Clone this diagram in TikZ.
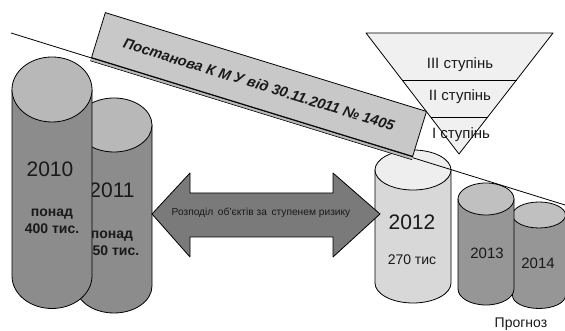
\documentclass[tikz,border=0pt]{standalone}
\usepackage{fontspec}
\setmainfont{Liberation Sans}
\definecolor{sideDark}{RGB}{140,140,140}
\definecolor{topDark}{RGB}{184,184,184}
\definecolor{sideMid}{RGB}{150,150,150}
\definecolor{topMid}{RGB}{192,192,192}
\definecolor{sideLight}{RGB}{216,216,216}
\definecolor{topLight}{RGB}{238,238,238}
\definecolor{arrowFill}{RGB}{122,122,122}
\definecolor{bandFill}{RGB}{200,200,200}
\definecolor{pyrFill}{RGB}{240,240,240}
\definecolor{ink}{RGB}{25,25,25}
% cylinder: centre x, top centre y, bottom centre y, x radius, y radius, side colour, top colour
\newcommand\drawcyl[7]{%
  \filldraw[outline,fill=#6] ({#1-#4},#2) -- ({#1-#4},#3)
    arc[start angle=180,end angle=360,x radius=#4,y radius=#5] -- ({#1+#4},#2) -- cycle;
  \filldraw[outline,fill=#7] (#1,#2) ellipse[x radius=#4,y radius=#5];
}
\begin{document}
\begin{tikzpicture}[x=1pt,y=1pt,
  outline/.style={draw=black,line width=0.8pt,line join=round},
  lbl/.style={inner sep=0pt,text=ink,align=center},
  big/.style={lbl,font=\fontsize{21}{25}\selectfont},
  mid/.style={lbl,font=\fontsize{15}{18}\selectfont},
  amount/.style={lbl,font=\bfseries\fontsize{14}{17}\selectfont},
  grade/.style={lbl,font=\fontsize{15}{18}\selectfont}]
\useasboundingbox (0,0) rectangle (565,331);

% risk grade pyramid
\coordinate (pA) at (366,298);
\coordinate (pB) at (553,298);
\coordinate (pC) at (459,177);
\filldraw[outline,fill=pyrFill] (pA) -- (pB) -- (pC) -- cycle;
\coordinate (g3l) at (402,251);   \coordinate (g3r) at (516.5,251);
\coordinate (g2l) at (430.5,214); \coordinate (g2r) at (487.7,214);
\draw[outline] (g3l) -- (g3r);
\draw[outline] (g2l) -- (g2r);
\node[grade] (gIII) at (460,266) {III ступінь};
\node[grade] (gII)  at (460,234) {II ступінь};
\node[grade] (gI)   at (461,196) {I ступінь};

% 2011 (behind 2010)
\drawcyl{114}{206}{45}{38}{27}{sideDark}{topDark}
\node[big] (y2011) at (112,141) {2011};
\node[amount] (n2011) at (112,88) {понад\\450 тис.};

% 2010
\drawcyl{52}{241.5}{55}{40}{32.5}{sideDark}{topDark}
\node[big] (y2010) at (50,162) {2010};
\node[amount] (n2010) at (52,110) {понад\\400 тис.};

% 2012
\drawcyl{413}{161}{48}{38}{20}{sideLight}{topLight}
\node[big] (y2012) at (412,109) {2012};
\node[lbl,font=\fontsize{14}{17}\selectfont] (n2012) at (412,71) {270 тис};

% forecast: 2014 behind 2013
\drawcyl{539}{116}{35.5}{26.5}{13}{sideMid}{topMid}
\node[mid] (y2014) at (538,68) {2014};
\drawcyl{486}{132}{42}{28}{16}{sideMid}{topMid}
\node[mid] (y2013) at (487,78) {2013};
\node[lbl,font=\fontsize{14}{17}\selectfont,anchor=base] (forecast) at (521,3) {Прогноз};

% trend line
\coordinate (trendL) at (11,298);
\coordinate (trendR) at (565,126);
\draw[line width=0.8pt] (trendL) -- (trendR);

% decree band
\node[draw=black,line width=0.8pt,fill=bandFill,rotate=-17.1,
      minimum width=336pt,minimum height=47pt,inner sep=0pt,
      font=\bfseries\itshape\fontsize{14.5}{17}\selectfont,text=ink]
  (decree) at (259,246.5) {Постанова К М У від 30.11.2011 № 1405};
\fill[gray!55] (decree.south west) -- (decree.south east)
  -- ([shift={(-0.9,-2.9)}]decree.south east) -- ([shift={(-0.9,-2.9)}]decree.south west) -- cycle;
\draw[line width=0.6pt] ([shift={(-0.9,-2.9)}]decree.south west) -- ([shift={(-0.9,-2.9)}]decree.south east);
\draw[line width=0.8pt] (decree.south west) -- (decree.south east);

% two-way arrow
\filldraw[outline,fill=arrowFill]
  (152,117) -- (190,158) -- (190,138) -- (333,138) -- (333,158) -- (380,117)
  -- (333,74) -- (333,94) -- (190,94) -- (190,74) -- cycle;
\node[lbl,font=\fontsize{10.2}{12}\selectfont] (split) at (261,118) {Розподіл\,\ об'єктів за\,\ ступенем ризику};
\end{tikzpicture}
\end{document}
